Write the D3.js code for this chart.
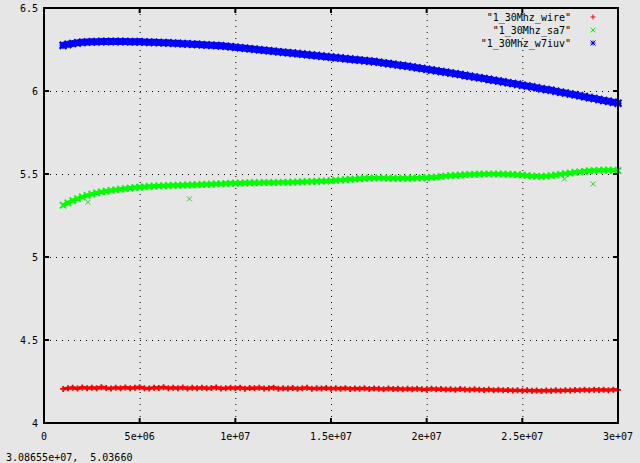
<!DOCTYPE html>
<html><head><meta charset="utf-8">
<script src="https://cdn.jsdelivr.net/npm/d3@7"></script>
<style>
html,body{margin:0;padding:0;background:#e6e6e6;}
svg{display:block;}
text{font-family:"DejaVu Sans Mono",monospace;font-size:10px;fill:#000;white-space:pre;}
</style></head>
<body>
<svg id="chart" width="640" height="463"></svg>
<script>
// Frequencies in MHz
const freqsMHz = [
 1,1.25,1.5,1.75, 2,2.25,2.5,2.75, 3,3.25,3.5,3.75, 4,4.25,4.5,4.75,
 5,5.25,5.5,5.75, 6,6.25,6.5,6.75, 7,7.25,7.5,7.75, 8,8.25,8.5,8.75,
 9,9.25,9.5,9.75, 10,10.25,10.5,10.75, 11,11.25,11.5,11.75, 12,12.25,12.5,12.75,
 13,13.25,13.5,13.75, 14,14.25,14.5,14.75, 15,15.25,15.5,15.75, 16,16.25,16.5,16.75,
 17,17.25,17.5,17.75, 18,18.25,18.5,18.75, 19,19.25,19.5,19.75, 20,20.25,20.5,20.75,
 21,21.25,21.5,21.75, 22,22.25,22.5,22.75, 23,23.25,23.5,23.75, 24,24.25,24.5,24.75,
 25,25.25,25.5,25.75, 26,26.25,26.5,26.75, 27,27.25,27.5,27.75, 28,28.25,28.5,28.75,
 29,29.25,29.5,29.75, 30
];

const wire = [
 4.205,4.210,4.212,4.208, 4.214,4.210,4.213,4.209, 4.215,4.211,4.208,4.213, 4.210,4.214,4.209,4.212,
 4.215,4.210,4.208,4.213, 4.211,4.215,4.209,4.212, 4.210,4.214,4.208,4.212, 4.210,4.213,4.209,4.211,
 4.214,4.208,4.210,4.212, 4.209,4.213,4.207,4.211, 4.209,4.212,4.208,4.210, 4.213,4.207,4.210,4.208,
 4.211,4.206,4.209,4.212, 4.207,4.210,4.208,4.211, 4.206,4.209,4.207,4.210, 4.205,4.208,4.206,4.209,
 4.205,4.208,4.206,4.204, 4.208,4.205,4.207,4.204, 4.206,4.203,4.207,4.204, 4.202,4.206,4.203,4.205,
 4.202,4.204,4.201,4.205, 4.202,4.200,4.203,4.201, 4.199,4.202,4.198,4.200, 4.197,4.199,4.196,4.198,
 4.195,4.197,4.194,4.196, 4.193,4.196,4.194,4.197, 4.195,4.198,4.196,4.199, 4.197,4.200,4.198,4.201,
 4.199,4.200,4.198,4.201, 4.200
];

const sa7 = [
 5.312,5.326,5.340,5.352, 5.362,5.371,5.379,5.386, 5.392,5.397,5.401,5.405, 5.409,5.412,5.415,5.418,
 5.421,5.423,5.425,5.427, 5.428,5.429,5.430,5.431, 5.432,5.433,5.434,5.435, 5.436,5.437,5.438,5.439,
 5.440,5.441,5.443,5.444, 5.445,5.446,5.447,5.447, 5.448,5.448,5.449,5.449, 5.449,5.449,5.450,5.450,
 5.451,5.452,5.453,5.454, 5.455,5.456,5.457,5.458, 5.460,5.462,5.464,5.466, 5.468,5.470,5.472,5.474,
 5.475,5.476,5.476,5.476, 5.475,5.474,5.474,5.474, 5.474,5.475,5.476,5.477, 5.478,5.480,5.482,5.485,
 5.488,5.490,5.492,5.494, 5.496,5.497,5.498,5.499, 5.500,5.500,5.500,5.500, 5.499,5.498,5.497,5.496,
 5.494,5.491,5.488,5.486, 5.485,5.487,5.490,5.494, 5.498,5.502,5.506,5.510, 5.513,5.516,5.519,5.521,
 5.522,5.523,5.523,5.522, 5.521
];
// isolated sa7 samples away from the main band
const sa7ExtraMHz = [2.3, 7.6, 27.2, 28.7];
const sa7ExtraVal = [5.33, 5.35, 5.47, 5.44];

const w7iuv = [
 6.275,6.281,6.286,6.290, 6.293,6.295,6.296,6.297, 6.298,6.298,6.298,6.298, 6.298,6.298,6.297,6.297,
 6.296,6.295,6.294,6.293, 6.292,6.291,6.290,6.288, 6.287,6.285,6.284,6.282, 6.281,6.279,6.277,6.276,
 6.274,6.272,6.270,6.267, 6.264,6.261,6.258,6.255, 6.252,6.249,6.246,6.243, 6.240,6.237,6.234,6.231,
 6.228,6.225,6.222,6.219, 6.216,6.213,6.210,6.207, 6.204,6.201,6.198,6.195, 6.192,6.189,6.186,6.183,
 6.180,6.177,6.173,6.169, 6.165,6.161,6.157,6.153, 6.149,6.145,6.140,6.136, 6.131,6.127,6.122,6.118,
 6.113,6.108,6.104,6.099, 6.094,6.089,6.084,6.080, 6.075,6.070,6.065,6.060, 6.055,6.050,6.045,6.040,
 6.035,6.030,6.025,6.019, 6.014,6.009,6.004,5.998, 5.993,5.988,5.982,5.977, 5.971,5.966,5.960,5.955,
 5.949,5.943,5.938,5.932, 5.926
];

const seriesNames = ['"1_30Mhz_wire"', '"1_30Mhz_sa7"', '"1_30Mhz_w7iuv"'];
const seriesColors = ['#ff0000', '#00ff00', '#0000ff'];
const seriesMarkers = ['plus', 'cross', 'star'];

const xTicks = [0, 5e6, 1e7, 1.5e7, 2e7, 2.5e7, 3e7];
const xTickLabels = ['0', '5e+06', '1e+07', '1.5e+07', '2e+07', '2.5e+07', '3e+07'];
const yTicks = [4, 4.5, 5, 5.5, 6, 6.5];
const yTickLabels = ['4', '4.5', '5', '5.5', '6', '6.5'];
const statusText = '3.08655e+07,  5.03660';

const svg = d3.select('#chart');
const L = 44, R = 618, T = 8, B = 423;
const x = d3.scaleLinear().domain([0, 3e7]).range([L, R]);
const y = d3.scaleLinear().domain([4, 6.5]).range([B, T]);

svg.append('rect').attr('width', 640).attr('height', 463).attr('fill', '#e6e6e6');

function markerPath(type, s) {
  const plus = `M${-s},0H${s}M0,${-s}V${s}`;
  const cross = `M${-s},${-s}L${s},${s}M${-s},${s}L${s},${-s}`;
  if (type === 'plus') return plus;
  if (type === 'cross') return cross;
  return plus + cross;
}

// grid
const grid = svg.append('g').attr('stroke', '#000').attr('stroke-width', 1)
  .attr('stroke-dasharray', '1,5').attr('fill', 'none');
xTicks.slice(1, -1).forEach(t => {
  grid.append('line').attr('x1', x(t) + 0.5).attr('x2', x(t) + 0.5).attr('y1', T).attr('y2', B);
});
yTicks.slice(1, -1).forEach(t => {
  grid.append('line').attr('y1', y(t) + 0.5).attr('y2', y(t) + 0.5).attr('x1', L).attr('x2', R);
});

// data: dense point clouds (markers over a band core)
const allSeries = [wire, sa7, w7iuv];
const coreWidth = [3.5, 4, 5];
const markSize = [3, 3.2, 3.5];
const markStroke = [1.8, 1.8, 2.2];
allSeries.forEach((vals, si) => {
  const pts = freqsMHz.map((f, i) => [f * 1e6, vals[i]]);
  svg.append('path').datum(pts)
    .attr('d', d3.line().x(p => x(p[0])).y(p => y(p[1])))
    .attr('fill', 'none').attr('stroke', seriesColors[si]).attr('stroke-width', coreWidth[si]);
  const d = markerPath(seriesMarkers[si], markSize[si]);
  svg.append('g').selectAll('path').data(pts).join('path')
    .attr('transform', p => `translate(${x(p[0])},${y(p[1])})`)
    .attr('d', d)
    .attr('stroke', seriesColors[si])
    .attr('stroke-width', markStroke[si])
    .attr('fill', 'none');
});
// isolated sa7 samples, drawn as single thin markers
svg.append('g').selectAll('path').data(sa7ExtraMHz.map((f, i) => [f * 1e6, sa7ExtraVal[i]])).join('path')
  .attr('transform', p => `translate(${x(p[0])},${y(p[1])})`)
  .attr('d', markerPath('cross', 2.5))
  .attr('stroke', '#30d030').attr('stroke-width', 1).attr('fill', 'none');

// axes (ticks mirrored, pointing inward)
const tickLen = 5;
const axes = svg.append('g').attr('stroke', '#000').attr('stroke-width', 2);
xTicks.forEach(t => {
  axes.append('line').attr('x1', x(t)).attr('x2', x(t)).attr('y1', B).attr('y2', B - tickLen);
  axes.append('line').attr('x1', x(t)).attr('x2', x(t)).attr('y1', T).attr('y2', T + tickLen);
});
yTicks.forEach(t => {
  axes.append('line').attr('y1', y(t)).attr('y2', y(t)).attr('x1', L).attr('x2', L + tickLen);
  axes.append('line').attr('y1', y(t)).attr('y2', y(t)).attr('x1', R).attr('x2', R - tickLen);
});
svg.append('rect').attr('x', L).attr('y', T).attr('width', R - L).attr('height', B - T)
  .attr('fill', 'none').attr('stroke', '#000').attr('stroke-width', 2);

// tick labels
xTicks.forEach((t, i) => {
  svg.append('text').attr('x', x(t)).attr('y', 440).attr('text-anchor', 'middle').text(xTickLabels[i]);
});
yTicks.forEach((t, i) => {
  svg.append('text').attr('x', 38).attr('y', y(t) + 4).attr('text-anchor', 'end').text(yTickLabels[i]);
});

// legend
const legendY = [17, 30, 43];
seriesNames.forEach((n, i) => {
  svg.append('text').attr('x', 571).attr('y', legendY[i] + 4).attr('text-anchor', 'end').text(n);
  svg.append('path').attr('transform', `translate(593,${legendY[i]})`)
    .attr('d', markerPath(seriesMarkers[i], 2.5))
    .attr('stroke', seriesColors[i]).attr('stroke-width', 1).attr('fill', 'none');
});

svg.append('text').attr('x', 6).attr('y', 461).text(statusText);
</script>
</body></html>
